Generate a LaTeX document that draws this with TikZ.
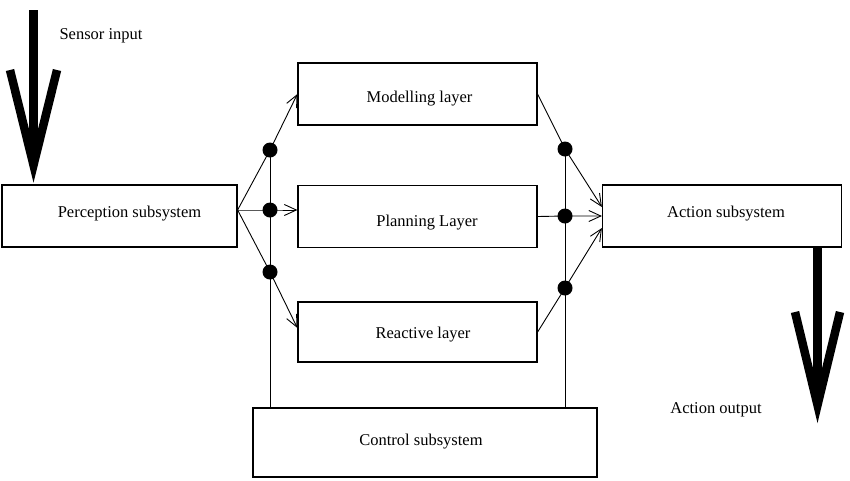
\documentclass[tikz,border=0pt]{standalone}
\usepackage{fontspec}
\setmainfont{Liberation Serif}
\usetikzlibrary{arrows.meta,calc}
\begin{document}
\begin{tikzpicture}[x=1pt,y=-1pt,
  box/.style={draw,line width=1.2pt,rectangle,inner sep=0pt},
  lbl/.style={font=\fontsize{16.5}{19}\selectfont,inner sep=0pt},
  conn/.style={line width=0.9pt},
  arr/.style={conn,-{Straight Barb[length=12pt,width=11pt,line width=0.9pt]}},
  jdot/.style={circle,fill=black,inner sep=0pt,minimum size=15pt},
  bigline/.style={line width=8.5pt,line join=miter,line cap=butt}
]
\useasboundingbox (0,0) rectangle (850,480);
% boxes
\node[box,minimum width=235pt,minimum height=62pt] (perc) at (119.5,216) {};
\node[box,minimum width=239pt,minimum height=62pt] (model) at (417.5,94) {};
\node[box,minimum width=239pt,minimum height=62pt] (plan) at (417.5,216.5) {};
\node[box,minimum width=239pt,minimum height=60pt] (react) at (417.5,332) {};
\node[box,minimum width=239pt,minimum height=62pt] (act) at (722,216) {};
\node[box,minimum width=344pt,minimum height=69pt] (ctrl) at (425,442.5) {};
% texts
\node[lbl] (perct) at (129.5,214) {Perception subsystem};
\node[lbl] (modelt) at (419.5,99) {Modelling layer};
\node[lbl] (plant) at (427,223) {Planning Layer};
\node[lbl] (reactt) at (423,335) {Reactive layer};
\node[lbl] (actt) at (726,214) {Action subsystem};
\node[lbl] (ctrlt) at (421,442) {Control subsystem};
\node[lbl] (sensort) at (101,36) {Sensor input};
\node[lbl] (outt) at (716,410) {Action output};
% junctions
\node[jdot] (jl1) at (270,150) {};
\node[jdot] (jl2) at (270,210) {};
\node[jdot] (jl3) at (270,272) {};
\node[jdot] (jr1) at (565,149) {};
\node[jdot] (jr2) at (565,216) {};
\node[jdot] (jr3) at (565,288) {};
% coordinates
\coordinate (pout) at ($(perc.east)+(0,-6)$);
\coordinate (rin) at ($(react.west)+(0,-4)$);
\coordinate (ain1) at ($(act.west)+(0,-9)$);
\coordinate (ain3) at ($(act.west)+(0,12)$);
% left connectors
\draw[arr] (pout) -- (jl1.center) -- (model.west);
\draw[arr] (pout) -- (jl2.center) -- (plan.west |- jl2);
\draw[arr] (pout) -- (jl3.center) -- (rin);
\draw[conn] (jl1.center) -- (jl1 |- ctrl.north);
% right connectors
\draw[arr] (model.east) -- (jr1.center) -- (ain1);
\draw[arr] (plan.east) -- (jr2.center) -- (act.west);
\draw[arr] (react.east) -- (jr3.center) -- (ain3);
\draw[conn] (jr1.center) -- (jr1 |- ctrl.north);
% big arrows
\coordinate (sin) at (33.5,10);
\coordinate (stip) at (33.5,165);
\coordinate (sl) at (10,70);
\coordinate (sr) at (57,70);
\draw[bigline] (sin) -- (stip);
\draw[bigline] (sl) -- (stip) -- (sr);
\coordinate (aout) at (act.south -| 817.5,0);
\coordinate (atip) at (817.5,405);
\coordinate (al) at (795,312);
\coordinate (ar) at (840,312);
\draw[bigline] (aout) -- (atip);
\draw[bigline] (al) -- (atip) -- (ar);
\end{tikzpicture}
\end{document}
